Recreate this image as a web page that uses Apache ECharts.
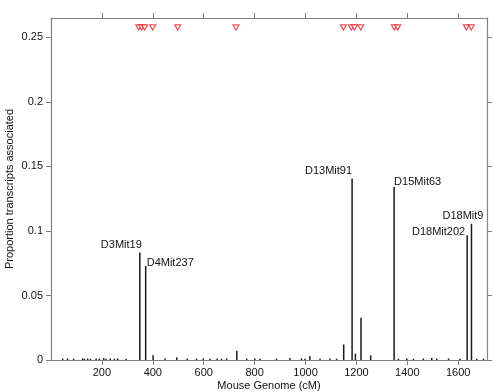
<!DOCTYPE html>
<html>
<head>
<meta charset="utf-8">
<script src="https://cdn.jsdelivr.net/npm/echarts@6/dist/echarts.min.js"></script>
<style>html,body{margin:0;padding:0;background:#fff}#c{width:494px;height:392px}</style>
</head>
<body>
<div id="c"></div>
<script>
// Data (cM positions and proportions)
const barPos = [46,65,89,124,131,144,155,177,190,207,216,233,249,262,295,349,372,401,448,494,535,572,598,625,653,670,690,730,769,801,821,886,939,984,998,1017,1057,1096,1122,1150,1183,1196,1218,1256,1348,1365,1398,1424,1463,1496,1516,1562,1607,1635,1652,1673,1699];
const barVal = [0.001,0.0012,0.001,0.0012,0.001,0.0012,0.001,0.0012,0.001,0.0015,0.001,0.0012,0.001,0.0012,0.001,0.0832,0.0729,0.0036,0.0012,0.002,0.0012,0.001,0.0012,0.001,0.0012,0.001,0.0012,0.0072,0.001,0.0012,0.001,0.001,0.0015,0.0012,0.001,0.003,0.001,0.0012,0.001,0.012,0.1407,0.0049,0.0327,0.0036,0.134,0.001,0.0012,0.001,0.0012,0.0015,0.001,0.0012,0.001,0.0966,0.1056,0.001,0.001];
const markerPos = [345,356,368,400,498,727,1149,1180,1192,1217,1349,1362,1632,1651];
const markerVal = 0.2577;
const labelNames = ['D3Mit19','D4Mit237','D13Mit91','D15Mit63','D18Mit202','D18Mit9'];
const labelPos = [349,372,1183,1348,1635,1652];
const xTicks = [200,400,600,800,1000,1200,1400,1600];
const yTicks = [0,0.05,0.1,0.15,0.2,0.25];

const FONT = '"Liberation Sans", Arial, Helvetica, sans-serif';
const labelStyle = {
  'D3Mit19':   {align:'right', offset:[2,0]},
  'D4Mit237':  {align:'left',  offset:[1,5]},
  'D13Mit91':  {align:'right', offset:[0,0]},
  'D15Mit63':  {align:'left',  offset:[0,2]},
  'D18Mit202': {align:'right', offset:[-2,4]},
  'D18Mit9':   {align:'right', offset:[12,0]}
};

const barData = barPos.map((x,i) => {
  const li = labelPos.indexOf(x);
  const item = {value:[x, barVal[i]]};
  if (li >= 0) {
    const nm = labelNames[li];
    const st = labelStyle[nm];
    item.label = {show:true, position:'top', distance:2, formatter:nm,
      align:st.align, offset:st.offset, color:'#111', fontSize:11, fontFamily:FONT};
  }
  return item;
});

const axisCol = '#808080';
const chart = echarts.init(document.getElementById('c'), null, {renderer:'canvas'});
chart.setOption({
  animation:false,
  backgroundColor:'#fff',
  grid:{left:51, right:7, top:18, bottom:32, containLabel:false, outerBoundsMode:'none'},
  xAxis:[
    {type:'value', position:'bottom', min:0, max:1713,
     name:'Mouse Genome (cM)', nameLocation:'middle', nameGap:20, nameMoveOverlap:false,
     nameTextStyle:{color:'#111', fontSize:11, fontFamily:FONT},
     axisLine:{show:true, onZero:false, lineStyle:{color:axisCol, width:1.2}},
     axisTick:{show:true, inside:false, length:5, customValues:xTicks, lineStyle:{color:axisCol}},
     axisLabel:{show:true, margin:7, customValues:xTicks, color:'#111', fontSize:11, fontFamily:FONT,
       formatter: v => String(v)},
     splitLine:{show:false}},
    {type:'value', position:'top', min:0, max:1713,
     axisLine:{show:true, onZero:false, lineStyle:{color:axisCol, width:1.2}},
     axisTick:{show:true, inside:false, length:5, customValues:xTicks, lineStyle:{color:axisCol}},
     axisLabel:{show:false}, splitLine:{show:false}}
  ],
  yAxis:[
    {type:'value', position:'left', min:0, max:0.265,
     name:'Proportion transcripts associated', nameLocation:'middle', nameGap:36, nameMoveOverlap:false,
     nameTextStyle:{color:'#111', fontSize:11, fontFamily:FONT},
     axisLine:{show:true, onZero:false, lineStyle:{color:axisCol, width:1.2}},
     axisTick:{show:true, inside:false, length:5, customValues:yTicks, lineStyle:{color:axisCol}},
     axisLabel:{show:true, margin:8, customValues:yTicks, color:'#111', fontSize:11, fontFamily:FONT,
       formatter: v => String(+v.toFixed(2))},
     splitLine:{show:false}},
    {type:'value', position:'right', min:0, max:0.265,
     axisLine:{show:true, onZero:false, lineStyle:{color:axisCol, width:1.2}},
     axisTick:{show:true, inside:false, length:5, customValues:yTicks, lineStyle:{color:axisCol}},
     axisLabel:{show:false}, splitLine:{show:false}}
  ],
  series:[
    {type:'bar', xAxisIndex:0, yAxisIndex:0, barWidth:1.5, data:barData,
     itemStyle:{color:'#1a1a1a'}, z:3},
    {type:'scatter', xAxisIndex:0, yAxisIndex:0, symbol:'triangle', symbolRotate:180,
     symbolSize:[6,5], data:markerPos.map(x => [x, markerVal]),
     itemStyle:{color:'#ffffff', borderColor:'#e8262a', borderWidth:1.2}, z:4}
  ]
});
</script>
</body>
</html>
